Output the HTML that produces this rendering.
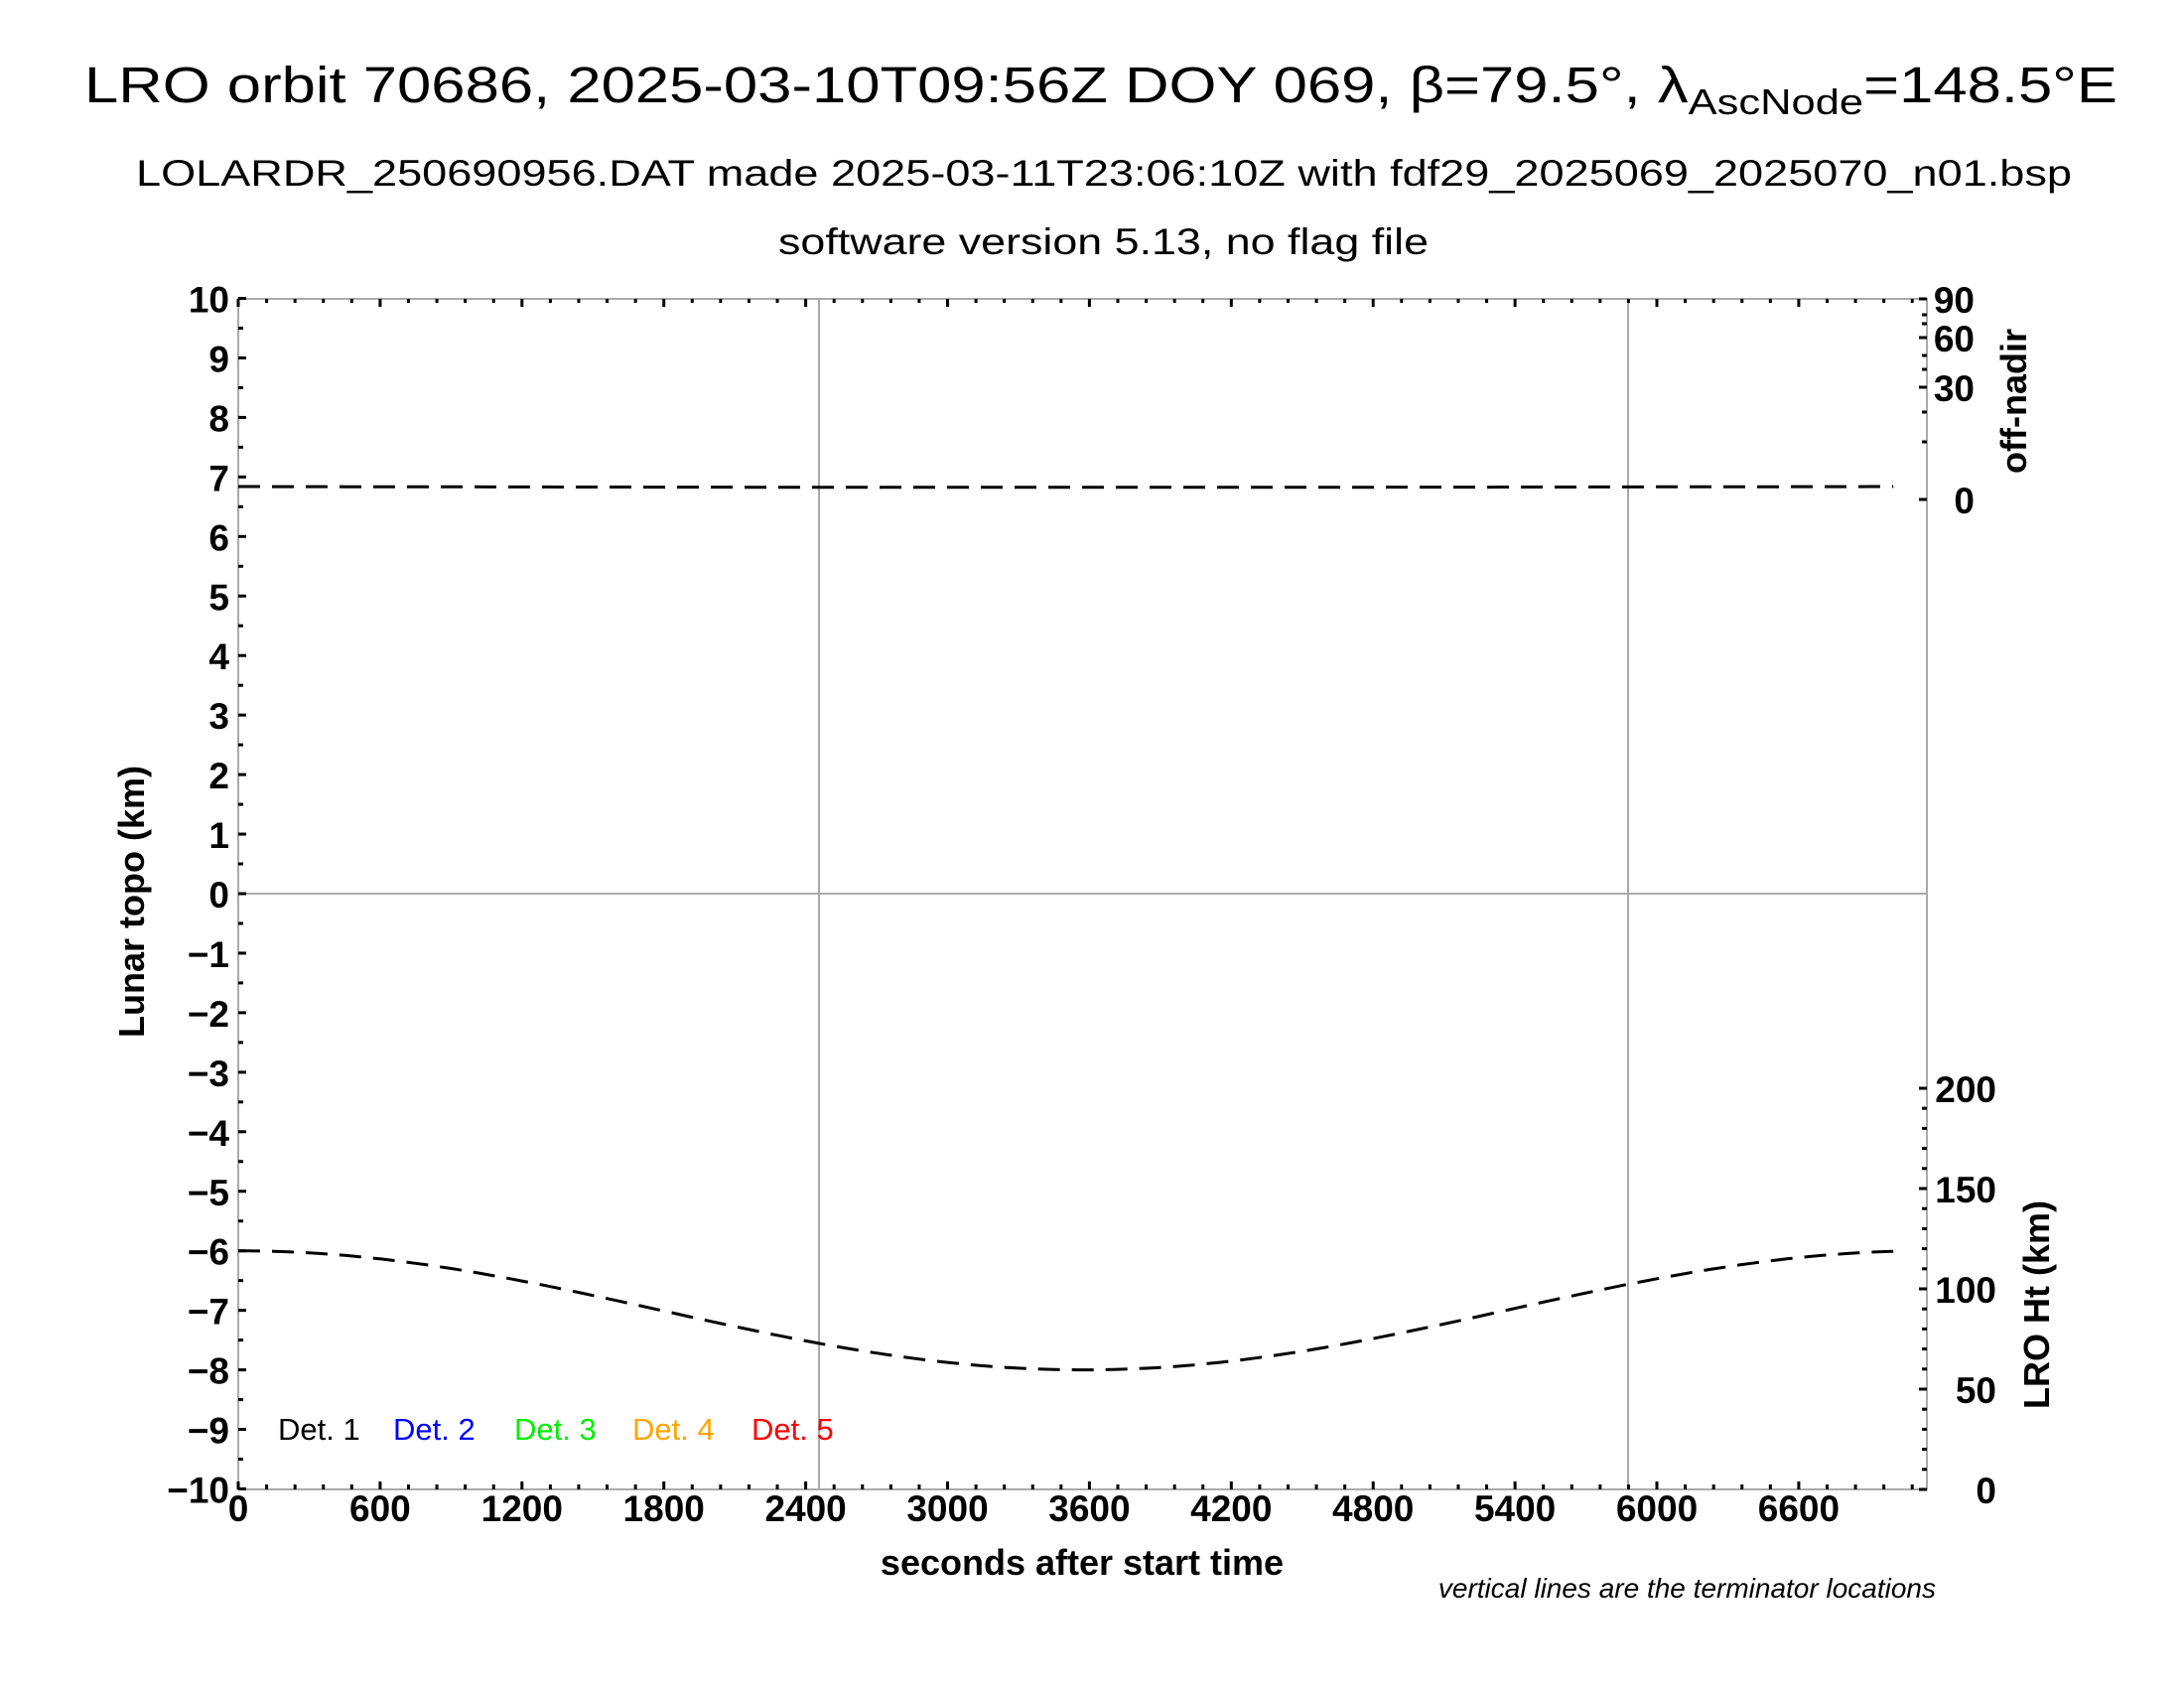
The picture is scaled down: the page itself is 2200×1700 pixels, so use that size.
<!DOCTYPE html>
<html><head><meta charset="utf-8"><style>html,body{margin:0;padding:0;background:#fff}svg{display:block}</style></head>
<body>
<svg width="2200" height="1700" viewBox="0 0 2200 1700" xmlns="http://www.w3.org/2000/svg" font-family="Liberation Sans, DejaVu Sans, sans-serif">
<rect width="2200" height="1700" fill="#fff"/>
<text x="85" y="103" font-size="51" textLength="2048" lengthAdjust="spacingAndGlyphs">LRO orbit 70686, 2025-03-10T09:56Z DOY 069, β=79.5°, λ<tspan font-size="36" dy="12">AscNode</tspan><tspan dy="-12">=148.5°E</tspan></text>
<text x="137" y="187" font-size="37" textLength="1950" lengthAdjust="spacingAndGlyphs">LOLARDR_250690956.DAT made 2025-03-11T23:06:10Z with fdf29_2025069_2025070_n01.bsp</text>
<text x="784" y="256" font-size="37" textLength="655" lengthAdjust="spacingAndGlyphs">software version 5.13, no flag file</text>
<g stroke="#aaa" stroke-width="2" fill="none">
<rect x="240" y="301" width="1701" height="1199"/>
<line x1="240" y1="900" x2="1941" y2="900"/>
<line x1="825" y1="301" x2="825" y2="1500"/>
<line x1="1640" y1="301" x2="1640" y2="1500"/>
</g>
<g stroke="#000" stroke-width="3" id="ticks"></g>
<g font-size="37" font-weight="bold" id="labels"></g>
<path id="top" d="" stroke="#000" stroke-width="3" fill="none" stroke-dasharray="22,12"/>
<path id="bot" d="" stroke="#000" stroke-width="3" fill="none" stroke-dasharray="22,12"/>
<g font-size="31">
<text x="280" y="1450" fill="#000">Det. 1</text>
<text x="396" y="1450" fill="#0000ff">Det. 2</text>
<text x="518" y="1450" fill="#00ee00">Det. 3</text>
<text x="637" y="1450" fill="#ffa500">Det. 4</text>
<text x="757" y="1450" fill="#ff0000">Det. 5</text>
</g>
<text x="1090" y="1586" font-size="36" font-weight="bold" text-anchor="middle">seconds after start time</text>
<text x="1969" y="1625" font-size="28" font-style="italic" text-anchor="end" transform="translate(-19,-16)">vertical lines are the terminator locations</text>
<text transform="translate(145,908) rotate(-90)" font-size="36" font-weight="bold" text-anchor="middle">Lunar topo (km)</text>
<text transform="translate(2041,404) rotate(-90)" font-size="36" font-weight="bold" text-anchor="middle">off-nadir</text>
<text transform="translate(2064,1314) rotate(-90)" font-size="36" font-weight="bold" text-anchor="middle">LRO Ht (km)</text>
</svg>
<script>
var NS="http://www.w3.org/2000/svg";
function el(p,t,a,txt){var e=document.createElementNS(NS,t);for(var k in a)e.setAttribute(k,a[k]);if(txt!==undefined)e.textContent=txt;p.appendChild(e);return e;}
var T=document.getElementById('ticks'),L=document.getElementById('labels');
var X=function(t){return 240+t*0.23817;},Y=function(v){return 900-v*59.95;};
for(var v=-10;v<=10;v+=0.5){var y=Y(v),maj=(v%1===0);el(T,'line',{x1:240,y1:y,x2:240+(maj?8:5),y2:y});
 if(maj){el(L,'text',{x:231,y:y+14,'text-anchor':'end'},(v<0?'\u2212'+(-v):''+v));}}
for(var t=0;t<=7140;t+=120){var x=X(t),maj=(t%600===0);el(T,'line',{x1:x,y1:1500,x2:x,y2:1500-(maj?8:5)});el(T,'line',{x1:x,y1:301,x2:x,y2:301+(maj?8:4)});
 if(maj&&t<=6600)el(L,'text',{x:x,y:1532,'text-anchor':'middle'},''+t);}
var on=[[90,301],[60,340],[30,390],[0,503]];
on.forEach(function(a){el(T,'line',{x1:1941,y1:a[1],x2:1933,y2:a[1]});el(L,'text',{x:1989,y:a[1]+14,'text-anchor':'end'},''+a[0]);});
[317,326,358,372,415,445].forEach(function(y){el(T,'line',{x1:1941,y1:y,x2:1936,y2:y});});
for(var h=0;h<=200;h+=10){var y=1500-h*2.02;el(T,'line',{x1:1941,y1:y,x2:1941-(h%50===0?8:5),y2:y});
 if(h%50===0)el(L,'text',{x:2011,y:y+14,'text-anchor':'end'},''+h);}
var d1='',d2='';
for(var t=0;t<=7000;t+=50){var x=X(t);d1+=(t?'L':'M')+x.toFixed(1)+','+(490+0.8*Math.sin(Math.PI*t/7000)).toFixed(1);
 var v=-7+Math.cos(2*Math.PI*t/7150);d2+=(t?'L':'M')+x.toFixed(1)+','+Y(v).toFixed(1);}
document.getElementById('top').setAttribute('d',d1);document.getElementById('bot').setAttribute('d',d2);
</script>
</body></html>
